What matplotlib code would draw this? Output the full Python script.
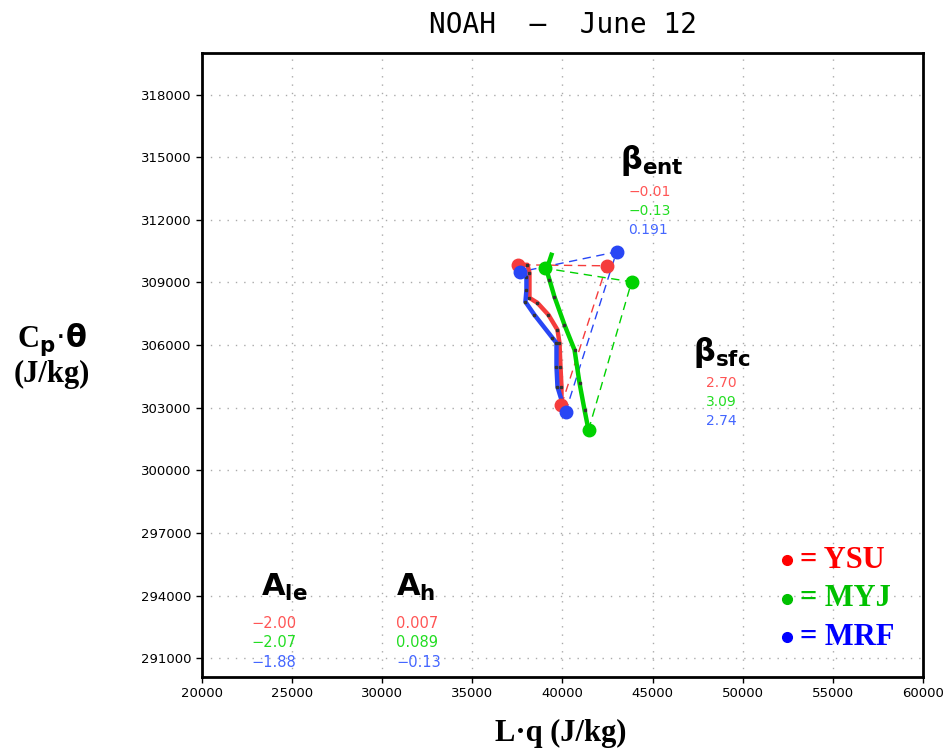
import matplotlib
matplotlib.use("Agg")
import matplotlib.pyplot as plt

# time-evolution paths (L*q, Cp*theta), start -> end
ysu_lq = [39944, 39944, 39889, 39833, 39722, 39222, 38611, 38167, 38167, 38056, 37556]
ysu_cpt = [303132, 303996, 304955, 306106, 306730, 307449, 308024, 308264, 309463, 309847, 309847]
myj_lq = [41444, 41222, 40944, 40667, 40111, 39556, 39278, 39111, 39389]
myj_cpt = [301933, 302893, 304188, 305770, 306969, 308312, 309127, 309607, 310326]
mrf_lq = [40167, 39944, 39722, 39667, 39667, 39444, 38444, 37944, 38000, 38000, 37667]
mrf_cpt = [302797, 303372, 303996, 304955, 306106, 306346, 307449, 308072, 308648, 309271, 309511]

# surface-flux vector tips
ysu_tip = (42444, 309799)
myj_tip = (43833, 309032)
mrf_tip = (43000, 310470)
myj_end = (39050, 309680)

beta_ent = ["\u22120.01", "\u22120.13", "0.191"]
beta_sfc = ["2.70", "3.09", "2.74"]
a_le = ["\u22122.00", "\u22122.07", "\u22121.88"]
a_h = ["0.007", "0.089", "\u22120.13"]
schemes = ["YSU", "MYJ", "MRF"]

line_cols = ["#f53c3c", "#00d200", "#2846f5"]
text_cols = ["#ff5555", "#22dd22", "#4466ff"]
legend_cols = ["#ff0000", "#00c000", "#0000ff"]

xticks = list(range(20000, 60001, 5000))
yticks = list(range(291000, 318001, 3000))

fig = plt.figure(figsize=(9.5, 7.52), dpi=100)
ax = fig.add_axes([0.2126, 0.0997, 0.759, 0.830])
ax.set_xlim(20000, 60000)
ax.set_ylim(290100, 320000)
ax.set_xticks(xticks)
ax.set_yticks(yticks)
ax.set_xticklabels([str(t) for t in xticks])
ax.set_yticklabels([str(t) for t in yticks])
ax.tick_params(labelsize=9.5, length=4, width=1, direction="out")
ax.grid(True, color="#aaaaaa", linestyle=(0, (1, 5)), linewidth=1)
for s in ax.spines.values():
    s.set_linewidth(2)

paths = [(ysu_lq, ysu_cpt, ysu_tip, (ysu_lq[-1], ysu_cpt[-1])),
         (myj_lq, myj_cpt, myj_tip, myj_end),
         (mrf_lq, mrf_cpt, mrf_tip, (mrf_lq[-1], mrf_cpt[-1]))]
for (lq, cpt, tip, end), c in zip(paths, line_cols):
    # dashed triangle: surface flux then entrainment
    ax.plot([lq[0], tip[0], end[0]], [cpt[0], tip[1], end[1]], color=c,
            lw=1, dashes=(6, 4), zorder=2)
    ax.plot(lq, cpt, color=c, lw=3.2, zorder=3)
    ax.plot(lq[1:-1], cpt[1:-1], ls="none", marker="s", ms=1.5, color="#333333", zorder=4)
    ax.plot([lq[0], tip[0], end[0]], [cpt[0], tip[1], end[1]], ls="none",
            marker="o", ms=9, color=c, zorder=5)

fig.text(0.593, 0.967, "NOAH  \u2013  June 12", fontsize=20, family="DejaVu Sans Mono",
         ha="center", va="center")

# coefficient labels
ax.text(43200, 314850, r"$\mathbf{\beta}_{\mathbf{ent}}$", fontsize=22, ha="left", va="center")
for i, v in enumerate(beta_ent):
    ax.text(43667, 313348 - i * 911, v, color=text_cols[i], fontsize=10, va="center")

ax.text(47250, 305650, r"$\mathbf{\beta}_{\mathbf{sfc}}$", fontsize=22, ha="left", va="center")
for i, v in enumerate(beta_sfc):
    ax.text(47944, 304187 - i * 911, v, color=text_cols[i], fontsize=10, va="center")

ax.text(23278, 294400, r"$\mathbf{A}_{\mathbf{le}}$", fontsize=22, ha="left", va="center")
for i, v in enumerate(a_le):
    ax.text(22722, 292677 - i * 935, v, color=text_cols[i], fontsize=10.5, va="center")

ax.text(30778, 294400, r"$\mathbf{A}_{\mathbf{h}}$", fontsize=22, ha="left", va="center")
for i, v in enumerate(a_h):
    ax.text(30778, 292677 - i * 935, v, color=text_cols[i], fontsize=10.5, va="center")

# legend
for i, (name, c) in enumerate(zip(schemes, legend_cols)):
    y = 295700 - i * 1850
    ax.plot(52450, y, marker="o", ms=7, color=c, clip_on=False)
    ax.text(53150, y, "= " + name, color=c, fontsize=22, fontweight="bold",
            family="Liberation Serif", va="center", ha="left")

fig.text(0.055, 0.548, r"C$_\mathbf{p}$$\cdot\mathbf{\theta}$", fontsize=22,
         fontweight="bold", family="Liberation Serif", ha="center", va="center")
fig.text(0.055, 0.502, "(J/kg)", fontsize=22, fontweight="bold",
         family="Liberation Serif", ha="center", va="center")
fig.text(0.59, 0.025, "L\u00b7q (J/kg)", fontsize=22, fontweight="bold",
         family="Liberation Serif", ha="center", va="center")

fig.savefig("out.png", dpi=100)
